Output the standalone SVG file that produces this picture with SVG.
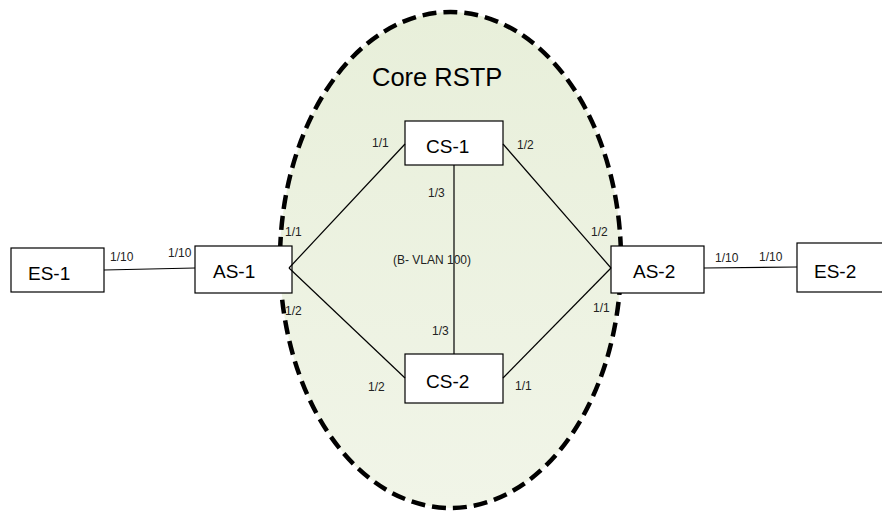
<svg xmlns="http://www.w3.org/2000/svg" width="882" height="511" viewBox="0 0 882 511">
<defs>
<linearGradient id="coreFill" x1="0" y1="0" x2="0" y2="1">
<stop offset="0" stop-color="#e8efda"/>
<stop offset="1" stop-color="#f1f5e8"/>
</linearGradient>
</defs>
<style>
.box{fill:#ffffff;stroke:#000000;stroke-width:1.2}
.lbl{font-family:"Liberation Sans",Arial,sans-serif;font-size:19px;fill:#000}
.port{font-family:"Liberation Sans",Arial,sans-serif;font-size:12px;fill:#222}
.link{stroke:#000;stroke-width:1.2;fill:none}
</style>
<rect width="882" height="511" fill="#ffffff"/>
<g id="core">
<ellipse cx="450.5" cy="260" rx="170.5" ry="248" fill="url(#coreFill)" stroke="#000" stroke-width="4.5" stroke-dasharray="14 7"/>
<text x="372" y="86" font-family="Liberation Sans,Arial,sans-serif" font-size="25.5" fill="#000">Core RSTP</text>
</g>
<g id="ES-1"><rect class="box" x="11" y="248" width="93" height="44"/><text class="lbl" x="28" y="280">ES-1</text></g>
<g id="AS-1"><rect class="box" x="195" y="246" width="97" height="47"/><text class="lbl" x="213" y="278">AS-1</text></g>
<g id="CS-1"><rect class="box" x="405" y="121" width="98" height="44"/><text class="lbl" x="426" y="153">CS-1</text></g>
<g id="CS-2"><rect class="box" x="405" y="354" width="98" height="49"/><text class="lbl" x="426" y="388">CS-2</text></g>
<g id="AS-2"><rect class="box" x="611" y="246" width="93" height="47"/><text class="lbl" x="633" y="278">AS-2</text></g>
<g id="ES-2"><rect class="box" x="797" y="243" width="95" height="49"/><text class="lbl" x="814" y="278">ES-2</text></g>
<g id="connectors">
<line class="link" x1="104" y1="270" x2="195" y2="268"/>
<line class="link" x1="704" y1="268" x2="797" y2="267"/>
<line class="link" x1="405" y1="144" x2="289" y2="268"/>
<line class="link" x1="289" y1="268" x2="405" y2="378"/>
<line class="link" x1="503" y1="144" x2="611" y2="268"/>
<line class="link" x1="611" y1="268" x2="503" y2="378"/>
<line class="link" x1="454" y1="165" x2="454" y2="354"/>
</g>
<g id="labels">
<text class="port" x="110" y="261">1/10</text>
<text class="port" x="168" y="257">1/10</text>
<text class="port" x="715" y="262">1/10</text>
<text class="port" x="759" y="261">1/10</text>
<text class="port" x="372" y="147">1/1</text>
<text class="port" x="517" y="149">1/2</text>
<text class="port" x="428" y="197">1/3</text>
<text class="port" x="285" y="236">1/1</text>
<text class="port" x="591" y="236">1/2</text>
<text class="port" x="393" y="264" font-size="11.5">(B- VLAN 100)</text>
<text class="port" x="285" y="315">1/2</text>
<text class="port" x="432" y="335">1/3</text>
<text class="port" x="593" y="312">1/1</text>
<text class="port" x="368" y="391">1/2</text>
<text class="port" x="515" y="390">1/1</text>
</g>
</svg>
